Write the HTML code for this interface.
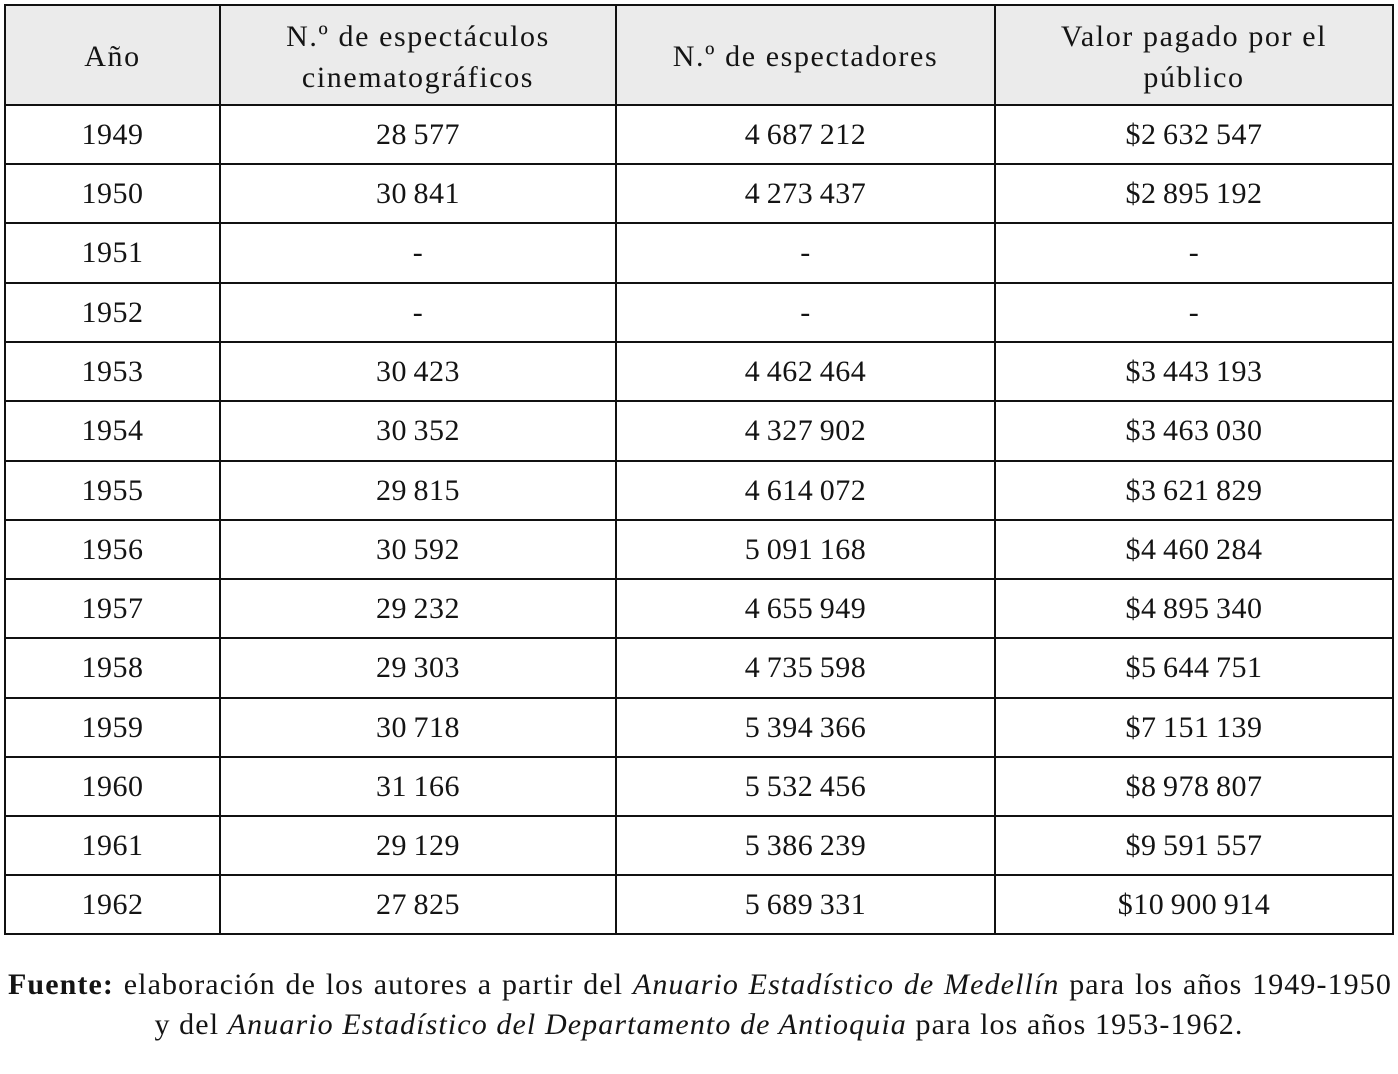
<!DOCTYPE html>
<html>
<head>
<meta charset="utf-8">
<style>
  html,body{margin:0;padding:0;background:#fff;}
  body{width:1398px;height:1074px;position:relative;overflow:hidden;
       font-family:"Liberation Serif",serif;color:#141414;}
  .h{position:absolute;left:4px;width:1390px;height:2px;background:#111;}
  .v{position:absolute;top:4px;height:931px;width:2px;background:#111;}
  .c{position:absolute;display:flex;align-items:center;justify-content:center;
     text-align:center;font-size:30px;letter-spacing:0.5px;white-space:nowrap;}
  .hd{position:absolute;top:6px;height:98px;display:flex;align-items:center;justify-content:center;
      text-align:center;font-size:30px;line-height:41px;letter-spacing:1.6px;padding-top:3px;box-sizing:border-box;}
  .foot{position:absolute;font-size:30px;line-height:40px;letter-spacing:1.1px;white-space:nowrap;}
</style>
</head>
<body>
<div style="position:absolute;left:6px;top:6px;width:1386px;height:98px;background:#ebebeb;"></div>

<!-- horizontal lines -->
<div class="h" style="top:4px"></div>
<div class="h" style="top:104px"></div>
<div class="h" style="top:163px"></div>
<div class="h" style="top:222px"></div>
<div class="h" style="top:282px"></div>
<div class="h" style="top:341px"></div>
<div class="h" style="top:400px"></div>
<div class="h" style="top:460px"></div>
<div class="h" style="top:519px"></div>
<div class="h" style="top:578px"></div>
<div class="h" style="top:637px"></div>
<div class="h" style="top:697px"></div>
<div class="h" style="top:756px"></div>
<div class="h" style="top:815px"></div>
<div class="h" style="top:874px"></div>
<div class="h" style="top:933px"></div>

<!-- vertical lines -->
<div class="v" style="left:4px"></div>
<div class="v" style="left:219px"></div>
<div class="v" style="left:615px"></div>
<div class="v" style="left:994px"></div>
<div class="v" style="left:1392px"></div>

<!-- header -->
<div class="hd" style="left:6px;width:213px;">Año</div>
<div class="hd" style="left:221px;width:394px;">N.º de espectáculos<br>cinematográficos</div>
<div class="hd" style="left:617px;width:377px;">N.º de espectadores</div>
<div class="hd" style="left:996px;width:396px;">Valor pagado por el<br>público</div>

<!-- rows -->
<div id="rows"></div>
<script>
(function(){
  var data=[
    ["1949","28\u2009577","4\u2009687\u2009212","$2\u2009632\u2009547"],
    ["1950","30\u2009841","4\u2009273\u2009437","$2\u2009895\u2009192"],
    ["1951","-","-","-"],
    ["1952","-","-","-"],
    ["1953","30\u2009423","4\u2009462\u2009464","$3\u2009443\u2009193"],
    ["1954","30\u2009352","4\u2009327\u2009902","$3\u2009463\u2009030"],
    ["1955","29\u2009815","4\u2009614\u2009072","$3\u2009621\u2009829"],
    ["1956","30\u2009592","5\u2009091\u2009168","$4\u2009460\u2009284"],
    ["1957","29\u2009232","4\u2009655\u2009949","$4\u2009895\u2009340"],
    ["1958","29\u2009303","4\u2009735\u2009598","$5\u2009644\u2009751"],
    ["1959","30\u2009718","5\u2009394\u2009366","$7\u2009151\u2009139"],
    ["1960","31\u2009166","5\u2009532\u2009456","$8\u2009978\u2009807"],
    ["1961","29\u2009129","5\u2009386\u2009239","$9\u2009591\u2009557"],
    ["1962","27\u2009825","5\u2009689\u2009331","$10\u2009900\u2009914"]
  ];
  var tops=[104,163,222,282,341,400,460,519,578,637,697,756,815,874,933];
  var cols=[[6,213],[221,394],[617,377],[996,396]];
  var html="";
  for(var r=0;r<data.length;r++){
    var t=tops[r]+2,h=tops[r+1]-tops[r]-2;
    for(var c=0;c<4;c++){
      html+='<div class="c" style="left:'+cols[c][0]+'px;width:'+cols[c][1]+'px;top:'+t+'px;height:'+h+'px;line-height:'+h+'px;">'+data[r][c]+'</div>';
    }
  }
  document.getElementById("rows").innerHTML=html;
})();
</script>

<!-- footer -->
<div class="foot" style="left:8px;top:965px;width:1384px;white-space:normal;text-align:justify;text-align-last:justify;"><b>Fuente:</b> elaboración de los autores a partir del <i>Anuario Estadístico de Medellín</i> para los años 1949-1950</div>
<div class="foot" style="left:0;top:1005px;width:1398px;text-align:center;">y del <i>Anuario Estadístico del Departamento de Antioquia</i> para los años 1953-1962.</div>
</body>
</html>
